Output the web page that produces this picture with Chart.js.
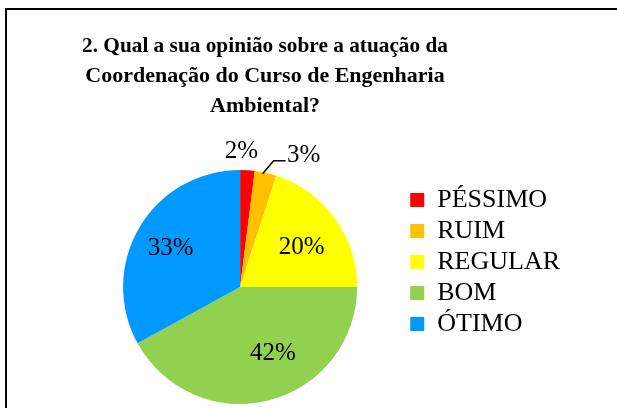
<!DOCTYPE html>
<html>
<head>
<meta charset="utf-8">
<title>Coordenação - Engenharia Ambiental</title>
<script src="https://cdn.jsdelivr.net/npm/chart.js@4.4.1/dist/chart.umd.min.js"></script>
<style>
    html, body { margin: 0; padding: 0; background: #fff; overflow: hidden; }
    #frame {
        position: absolute; left: 5px; top: 8px;
        width: 700px; height: 500px;
        border-left: 2px solid #000; border-top: 2px solid #000;
    }
    #wrap { position: absolute; left: 0; top: 0; width: 617px; height: 408px; }
</style>
</head>
<body>
<div id="frame"></div>
<div id="wrap"><canvas id="opiniaoChart"></canvas></div>
<script>
// chart data
const titleLines = [
    '2. Qual a sua opinião sobre a atuação da',
    'Coordenação do Curso de Engenharia',
    'Ambiental?'
];
const categories = ['PÉSSIMO', 'RUIM', 'REGULAR', 'BOM', 'ÓTIMO'];
const percentages = [2, 3, 20, 42, 33];
const sliceColors = ['#FF0000', '#FFC000', '#FFFF00', '#92D050', '#0099FF'];

const SERIF = '"Liberation Serif", "Times New Roman", serif';

// title is not centred over the whole chart in the original, it sits a bit right of the pie
const titleSpan = { center: 265, width: 366 };

// where each percent label sits, relative to its slice (inside ones at 65% of radius)
const labelSpots = [
    { outside: true, dx: -6, dy: -19 },
    { outside: true, dx: 38, dy: -17, leader: [[-3, 1], [8, -12], [20, -12]] },
    { dx: 0, dy: 5 },
    { dx: 14, dy: -7 },
    { dx: -4, dy: 0 }
];

const titlePlacement = {
    id: 'titlePlacement',
    afterLayout(chart) {
        const t = chart.titleBlock;
        t.left = titleSpan.center - titleSpan.width / 2;
        t.right = t.left + titleSpan.width;
        t.width = titleSpan.width;
    }
};

const pieLabels = {
    id: 'pieLabels',
    afterDatasetsDraw(chart) {
        const ctx = chart.ctx;
        const arcs = chart.getDatasetMeta(0).data;

        ctx.save();
        ctx.font = '25px ' + SERIF;
        ctx.fillStyle = '#000';
        ctx.strokeStyle = '#000';
        ctx.lineWidth = 1.5;
        ctx.textAlign = 'center';
        ctx.textBaseline = 'middle';

        arcs.forEach((arc, i) => {
            const { x, y, startAngle, endAngle, outerRadius } =
                arc.getProps(['x', 'y', 'startAngle', 'endAngle', 'outerRadius'], true);
            const mid = (startAngle + endAngle) / 2;
            const spot = labelSpots[i];
            const r = spot.outside ? outerRadius : outerRadius * 0.65;
            const ax = x + Math.cos(mid) * r;
            const ay = y + Math.sin(mid) * r;

            if (spot.leader) {
                ctx.beginPath();
                spot.leader.forEach(([lx, ly], k) => {
                    if (k === 0) ctx.moveTo(ax + lx, ay + ly);
                    else ctx.lineTo(ax + lx, ay + ly);
                });
                ctx.stroke();
            }

            ctx.fillText(percentages[i] + '%', ax + spot.dx, ay + spot.dy);
        });

        ctx.restore();
    }
};

new Chart(document.getElementById('opiniaoChart'), {
    type: 'pie',
    data: {
        labels: categories,
        datasets: [{
            data: percentages,
            backgroundColor: sliceColors,
            borderWidth: 0,
            radius: 117,
            clip: false
        }]
    },
    options: {
        responsive: true,
        maintainAspectRatio: false,
        animation: false,
        layout: {
            padding: { left: 75, right: 47, top: 0, bottom: 16 }
        },
        plugins: {
            title: {
                display: true,
                text: titleLines,
                color: '#000',
                font: { family: SERIF, size: 22, weight: 'bold', lineHeight: '30px' },
                padding: { top: 31, bottom: 61 }
            },
            legend: {
                position: 'right',
                align: 'start',
                fullSize: false,
                labels: {
                    boxWidth: 14,
                    boxHeight: 14,
                    padding: 5,
                    color: '#000',
                    font: { family: SERIF, size: 26 }
                }
            },
            tooltip: { enabled: false }
        }
    },
    plugins: [titlePlacement, pieLabels]
});
</script>
</body>
</html>
